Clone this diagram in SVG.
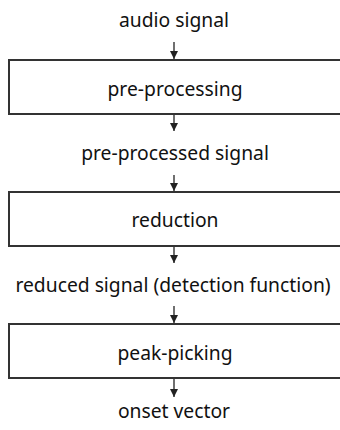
<svg xmlns="http://www.w3.org/2000/svg" width="340" height="430" viewBox="0 0 340 430">
<defs>
<style>
text{font-family:"Noto Sans","Noto Sans CJK KR",sans-serif;font-size:19.3px;fill:#111;text-anchor:middle}
.box{fill:#fff;stroke:#333;stroke-width:2}
.conn{stroke:#222;stroke-width:1.3;fill:none;marker-end:url(#ah)}
</style>
<marker id="ah" viewBox="0 0 8 8" refX="8" refY="4" markerWidth="8" markerHeight="8" markerUnits="userSpaceOnUse" orient="auto">
<path d="M0,0 L8,4 L0,8 Z" fill="#222"/>
</marker>
</defs>
<rect width="340" height="430" fill="#fff"/>
<g id="label-audio"><text x="174" y="27">audio signal</text></g>
<g id="pre-processing"><rect class="box" x="9" y="60" width="340" height="54"/><text x="175" y="96">pre-processing</text></g>
<g id="label-preprocessed"><text x="175" y="160">pre-processed signal</text></g>
<g id="reduction"><rect class="box" x="9" y="192" width="340" height="54"/><text x="175" y="227">reduction</text></g>
<g id="label-reduced"><text x="173" y="292">reduced signal (detection function)</text></g>
<g id="peak-picking"><rect class="box" x="9" y="324" width="340" height="54"/><text x="175" y="360">peak-picking</text></g>
<g id="label-onset"><text x="174" y="418">onset vector</text></g>
<g id="connectors">
<line class="conn" x1="174" y1="42" x2="174" y2="59"/>
<line class="conn" x1="174" y1="115" x2="174" y2="131"/>
<line class="conn" x1="174" y1="175" x2="174" y2="191"/>
<line class="conn" x1="174" y1="247" x2="174" y2="263"/>
<line class="conn" x1="174" y1="306" x2="174" y2="323"/>
<line class="conn" x1="174" y1="379" x2="174" y2="397"/>
</g>
</svg>
